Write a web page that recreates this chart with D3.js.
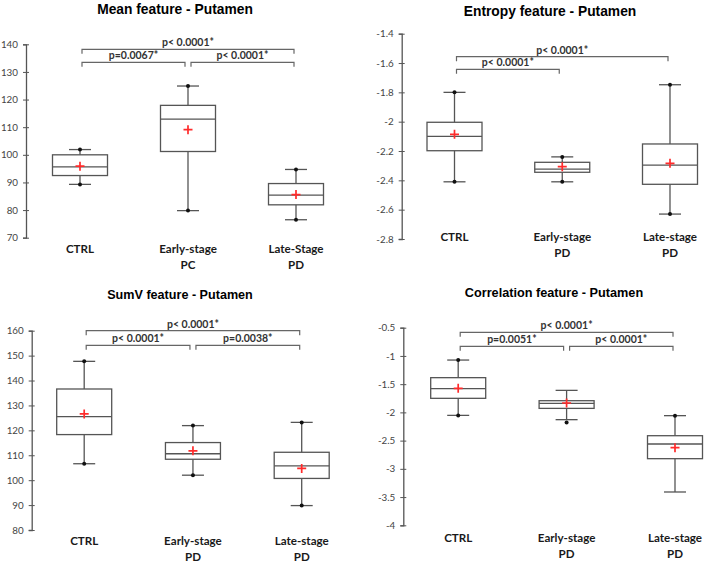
<!DOCTYPE html>
<html>
<head>
<meta charset="utf-8">
<script src="https://cdn.jsdelivr.net/npm/d3@7"></script>
<style>
  body { margin: 0; background: #fff; }
  svg { display: block; }
</style>
</head>
<body>
<div id="chart"></div>
<script>
// ---- data ----
const catsPC = ["CTRL", "Early-stage|PC", "Late-Stage|PD"];
const catsPD = ["CTRL", "Early-stage|PD", "Late-stage|PD"];

// Mean feature
const meanTicks = [70, 80, 90, 100, 110, 120, 130, 140];
const meanLow = [89.3, 79.8, 76.5];
const meanQ1 = [92.5, 101.2, 81.9];
const meanMed = [95.6, 112.9, 85.4];
const meanQ3 = [100.0, 117.9, 89.6];
const meanHigh = [101.9, 124.9, 94.7];
const meanAvg = [95.9, 109.1, 85.6];
const meanMinDot = [89.3, 79.8, 76.5];
const meanMaxDot = [101.9, 124.9, 94.7];

// Entropy feature
const entTicks = [-2.8, -2.6, -2.4, -2.2, -2, -1.8, -1.6, -1.4];
const entLow = [-2.41, -2.41, -2.63];
const entQ1 = [-2.198, -2.345, -2.427];
const entMed = [-2.10, -2.323, -2.296];
const entQ3 = [-2.004, -2.277, -2.152];
const entHigh = [-1.80, -2.24, -1.748];
const entAvg = [-2.086, -2.307, -2.284];
const entMinDot = [-2.41, -2.41, -2.63];
const entMaxDot = [-1.80, -2.24, -1.748];

// SumV feature
const sumTicks = [80, 90, 100, 110, 120, 130, 140, 150, 160];
const sumLow = [106.6, 102.0, 89.8];
const sumQ1 = [118.3, 108.4, 100.7];
const sumMed = [125.5, 110.6, 105.7];
const sumQ3 = [136.6, 115.1, 111.2];
const sumHigh = [147.7, 121.9, 123.2];
const sumAvg = [126.6, 111.8, 104.7];
const sumMinDot = [106.6, 102.0, 89.8];
const sumMaxDot = [147.7, 121.9, 123.2];

// Correlation feature
const corTicks = [-4, -3.5, -3, -2.5, -2, -1.5, -1, -0.5];
const corLow = [-2.053, -2.129, -3.41];
const corQ1 = [-1.751, -1.929, -2.82];
const corMed = [-1.58, -1.84, -2.56];
const corQ3 = [-1.385, -1.793, -2.413];
const corHigh = [-1.073, -1.61, -2.058];
const corAvg = [-1.574, -1.834, -2.625];
const corMinDot = [-2.053, -2.18, null];
const corMaxDot = [-1.073, null, -2.058];

// significance brackets: [from, to, label, row]
const meanSig = [[0, 2, "p< 0.0001*", 0], [0, 1, "p=0.0067*", 1], [1, 2, "p< 0.0001*", 1]];
const entSig = [[0, 2, "p< 0.0001*", 0], [0, 1, "p< 0.0001*", 1]];
const sumSig = [[0, 2, "p< 0.0001*", 0], [0, 1, "p< 0.0001*", 1], [1, 2, "p=0.0038*", 1]];
const corSig = [[0, 2, "p< 0.0001*", 0], [0, 1, "p=0.0051*", 1], [1, 2, "p< 0.0001*", 1]];

const width = 708;
const height = 565;

const svg = d3.select("#chart")
  .append("svg")
  .attr("width", width)
  .attr("height", height);

const lineColor = "#555";

function drawPanel(p) {
  const g = svg.append("g");

  const y = d3.scaleLinear()
    .domain([p.ticks[0], p.ticks[p.ticks.length - 1]])
    .range([p.yBottom, p.yTop]);

  const x = d3.scalePoint()
    .domain(p.cats)
    .range(p.xRange);

  // title
  g.append("text")
    .attr("x", p.titleX)
    .attr("y", p.titleY)
    .attr("text-anchor", "middle")
    .attr("font-family", "Liberation Sans, Arial, sans-serif")
    .attr("font-weight", "bold")
    .attr("font-size", p.titleSize)
    .attr("fill", "#000")
    .text(p.title);

  // y axis
  const axis = g.append("g")
    .attr("transform", `translate(${p.axisX},0)`)
    .call(d3.axisLeft(y)
      .tickValues(p.ticks)
      .tickSizeOuter(0)
      .tickSize(3)
      .tickPadding(5)
      .tickFormat(d => String(+d.toFixed(2))));
  axis.select(".domain").attr("stroke", lineColor).attr("stroke-width", 1.3);
  axis.selectAll(".tick line").attr("x1", 3).attr("x2", -3).attr("stroke", lineColor);
  axis.selectAll(".tick text")
    .attr("font-family", "Lato, sans-serif")
    .attr("font-size", 9.8)
    .attr("fill", "#444");

  const idx = p.cats.map((c, i) => i);
  const boxW = 55, capW = 22;

  const box = g.selectAll(".bx")
    .data(idx)
    .enter().append("g")
    .attr("class", "bx")
    .attr("transform", i => `translate(${x(p.cats[i])},0)`);

  // whiskers
  box.append("line")
    .attr("x1", 0).attr("x2", 0)
    .attr("y1", i => y(p.high[i])).attr("y2", i => y(p.low[i]))
    .attr("stroke", lineColor).attr("stroke-width", 1.3);
  box.append("line")
    .attr("x1", -capW / 2).attr("x2", capW / 2)
    .attr("y1", i => y(p.high[i])).attr("y2", i => y(p.high[i]))
    .attr("stroke", lineColor).attr("stroke-width", 1.3);
  box.append("line")
    .attr("x1", -capW / 2).attr("x2", capW / 2)
    .attr("y1", i => y(p.low[i])).attr("y2", i => y(p.low[i]))
    .attr("stroke", lineColor).attr("stroke-width", 1.3);

  // box
  box.append("rect")
    .attr("x", -boxW / 2)
    .attr("width", boxW)
    .attr("y", i => y(p.q3[i]))
    .attr("height", i => y(p.q1[i]) - y(p.q3[i]))
    .attr("fill", "#fff")
    .attr("stroke", lineColor)
    .attr("stroke-width", 1.3);
  box.append("line")
    .attr("x1", -boxW / 2).attr("x2", boxW / 2)
    .attr("y1", i => y(p.med[i])).attr("y2", i => y(p.med[i]))
    .attr("stroke", lineColor).attr("stroke-width", 1.3);

  // min / max dots
  box.filter(i => p.minDot[i] != null).append("circle")
    .attr("cy", i => y(p.minDot[i])).attr("r", 2).attr("fill", "#111");
  box.filter(i => p.maxDot[i] != null).append("circle")
    .attr("cy", i => y(p.maxDot[i])).attr("r", 2).attr("fill", "#111");

  // mean marker
  box.append("path")
    .attr("d", i => `M-4.5,${y(p.avg[i])}h9M0,${y(p.avg[i]) - 4.5}v9`)
    .attr("stroke", "#ff2b2b")
    .attr("stroke-width", 1.7);

  // category labels
  const lab = box.append("text")
    .attr("text-anchor", "middle")
    .attr("font-family", "Lato, sans-serif")
    .attr("font-weight", "bold")
    .attr("font-size", 11.6)
    .attr("fill", "#1a1a1a");
  lab.each(function (i) {
    const parts = p.cats[i].split("|");
    parts.forEach((t, k) => {
      d3.select(this).append("tspan")
        .attr("x", 0)
        .attr("y", p.labelY + k * 16)
        .text(t);
    });
  });

  // significance brackets
  p.sig.forEach(s => {
    const yy = p.rowY[s[3]];
    const x1 = x(p.cats[s[0]]) + (s[0] === 1 ? 3 : 2);
    const x2 = x(p.cats[s[1]]) - (s[1] === 1 ? 3 : 2);
    g.append("path")
      .attr("d", `M${x1},${yy + 4.5}V${yy}H${x2}V${yy + 4.5}`)
      .attr("fill", "none")
      .attr("stroke", "#666")
      .attr("stroke-width", 1.2);
    g.append("text")
      .attr("x", (x1 + x2) / 2)
      .attr("y", yy - 3)
      .attr("text-anchor", "middle")
      .attr("font-family", "Lato, sans-serif")
      .attr("font-weight", "bold")
      .attr("font-size", 10.5)
      .attr("fill", "#333")
      .text(s[2]);
  });
}

drawPanel({
  title: "Mean feature - Putamen", titleX: 175, titleY: 14, titleSize: 13.8,
  cats: catsPC, ticks: meanTicks,
  low: meanLow, q1: meanQ1, med: meanMed, q3: meanQ3, high: meanHigh, avg: meanAvg,
  minDot: meanMinDot, maxDot: meanMaxDot, sig: meanSig,
  axisX: 26, yTop: 44.3, yBottom: 237.7, xRange: [80, 296],
  labelY: 253, rowY: [49.3, 62.3]
});

drawPanel({
  title: "Entropy feature - Putamen", titleX: 550, titleY: 16, titleSize: 13.8,
  cats: catsPD, ticks: entTicks,
  low: entLow, q1: entQ1, med: entMed, q3: entQ3, high: entHigh, avg: entAvg,
  minDot: entMinDot, maxDot: entMaxDot, sig: entSig,
  axisX: 401.7, yTop: 33.7, yBottom: 239, xRange: [454.5, 670],
  labelY: 241, rowY: [56.7, 69.3]
});

drawPanel({
  title: "SumV feature - Putamen", titleX: 180, titleY: 299, titleSize: 12.6,
  cats: catsPD, ticks: sumTicks,
  low: sumLow, q1: sumQ1, med: sumMed, q3: sumQ3, high: sumHigh, avg: sumAvg,
  minDot: sumMinDot, maxDot: sumMaxDot, sig: sumSig,
  axisX: 31.7, yTop: 330.7, yBottom: 530, xRange: [84.2, 301.7],
  labelY: 545, rowY: [330.7, 345.3]
});

drawPanel({
  title: "Correlation feature - Putamen", titleX: 554, titleY: 297, titleSize: 12.7,
  cats: catsPD, ticks: corTicks,
  low: corLow, q1: corQ1, med: corMed, q3: corQ3, high: corHigh, avg: corAvg,
  minDot: corMinDot, maxDot: corMaxDot, sig: corSig,
  axisX: 403.3, yTop: 327.7, yBottom: 525.3, xRange: [458.2, 675],
  labelY: 541.5, rowY: [332.3, 346.3]
});
</script>
</body>
</html>
